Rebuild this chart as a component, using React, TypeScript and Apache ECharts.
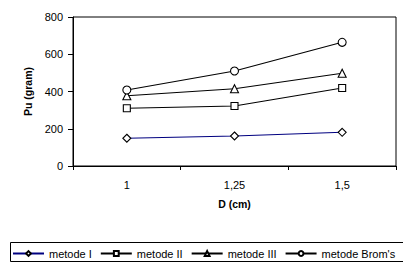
import React, { useEffect, useRef } from "react";
import * as echarts from "echarts";

const categories = ["1", "1,25", "1,5"];
const metodeI = [149, 161, 181];
const metodeII = [310, 322, 419];
const metodeIII = [377, 415, 498];
const metodeBroms = [408, 510, 664];
const yTicks = { min: 0, max: 800, interval: 200 };

export default function App() {
  const ref = useRef<HTMLDivElement>(null);
  useEffect(() => {
    const chart = echarts.init(ref.current!, null, { renderer: "svg" });
    const font = "Liberation Sans, Arial, sans-serif";
    const mk = (name: string, data: number[], symbol: string, size: number, lineColor: string) => ({
      name,
      type: "line",
      data,
      symbol,
      symbolSize: size,
      showSymbol: true,
      lineStyle: { color: lineColor, width: 1.1 },
      itemStyle: { color: "#fff", borderColor: "#000", borderWidth: 1.1 },
      emphasis: { disabled: true },
    });
    chart.setOption({
      animation: false,
      textStyle: { fontFamily: font },
      grid: {
        left: 73,
        top: 17,
        right: 7,
        bottom: 97,
        show: true,
        borderColor: "#000",
        borderWidth: 1,
        backgroundColor: "#fff",
      },
      xAxis: {
        type: "category",
        data: categories,
        boundaryGap: true,
        name: "D (cm)",
        nameLocation: "middle",
        nameGap: 32,
        nameTextStyle: { fontWeight: "bold", fontSize: 10.5, color: "#000", fontFamily: font },
        axisLine: { lineStyle: { color: "#000" } },
        axisTick: { show: true, length: 4, lineStyle: { color: "#000" } },
        axisLabel: { color: "#000", fontSize: 11, margin: 13, fontFamily: font },
        splitLine: { show: false },
      },
      yAxis: {
        type: "value",
        min: yTicks.min,
        max: yTicks.max,
        interval: yTicks.interval,
        name: "Pu (gram)",
        nameLocation: "middle",
        nameGap: 38,
        nameRotate: 90,
        nameTextStyle: { fontWeight: "bold", fontSize: 10.5, color: "#000", fontFamily: font },
        axisLine: { show: true, lineStyle: { color: "#000" } },
        axisTick: { show: true, length: 5, lineStyle: { color: "#000" } },
        axisLabel: { color: "#000", fontSize: 11, margin: 10, fontFamily: font },
        splitLine: { show: false },
      },
      legend: {
        left: 12,
        top: 248,
        itemWidth: 31,
        itemHeight: 6,
        itemGap: 8,
        padding: 0,
        textStyle: { fontSize: 11, color: "#000", fontFamily: font },
        data: ["metode I", "metode II", "metode III", "metode Brom's"],
      },
      graphic: [
        {
          type: "rect",
          shape: { x: 10.5, y: 242.5, width: 400, height: 19 },
          style: { fill: "none", stroke: "#000", lineWidth: 1 },
          silent: true,
        },
      ],
      series: [
        mk("metode I", metodeI, "diamond", 8, "#000080"),
        mk("metode II", metodeII, "rect", 7, "#000"),
        mk("metode III", metodeIII, "triangle", 8, "#000"),
        mk("metode Brom's", metodeBroms, "circle", 8, "#000"),
      ],
    });
    return () => chart.dispose();
  }, []);
  return <div ref={ref} style={{ width: 403, height: 263, position: "absolute", left: 0, top: 0 }} />;
}
